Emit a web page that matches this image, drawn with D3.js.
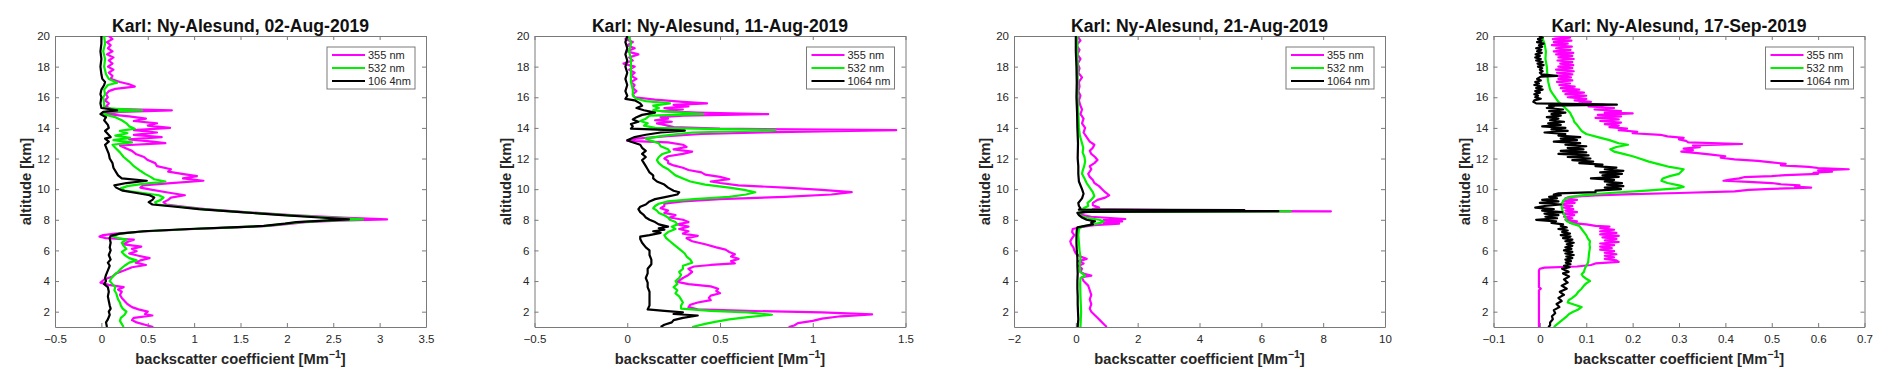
<!DOCTYPE html>
<html><head><meta charset="utf-8">
<script src="https://cdn.jsdelivr.net/npm/d3@7"></script>
<style>
body{margin:0;background:#fff;}
svg{display:block;font-family:"Liberation Sans",Arial,Helvetica,sans-serif;}
</style></head><body>
<svg id="chart" width="1892" height="385"></svg>
<script>
// ---------- DATA: [altitude km, backscatter Mm^-1] ----------
const aug02_1064 = [[20,0.0],[19.5,0.0],[19,-0.01],[18.5,0.0],[18,-0.01],[17.5,0.0],[17.2,0.01],[17.0,0.04],[16.8,0.03],[16.5,0.0],[16.2,-0.01],[16,0.0],[15.6,-0.01],[15.3,0.0],[15.15,0.17],[15.05,0.02],[14.9,-0.01],[14.7,0.05],[14.5,0.03],[14.2,0.07],[14.0,0.08],[13.8,0.04],[13.6,0.07],[13.4,0.1],[13.3,0.04],[13.1,0.08],[12.9,0.04],[12.6,0.06],[12.3,0.08],[12.0,0.09],[11.7,0.12],[11.4,0.13],[11.1,0.16],[10.9,0.18],[10.7,0.22],[10.55,0.49],[10.4,0.27],[10.25,0.14],[10.1,0.16],[9.9,0.23],[9.75,0.38],[9.6,0.52],[9.45,0.57],[9.3,0.55],[9.15,0.51],[9.0,0.55],[8.85,0.8],[8.7,1.05],[8.5,1.5],[8.3,1.95],[8.15,2.35],[8.03,2.67],[7.95,2.4],[7.85,2.1],[7.75,1.98],[7.6,1.75],[7.5,1.4],[7.4,0.95],[7.25,0.45],[7.1,0.2],[6.95,0.1],[6.8,0.09],[6.5,0.1],[6.2,0.09],[6.0,0.1],[5.7,0.08],[5.4,0.1],[5.2,0.07],[5.0,0.09],[4.7,0.07],[4.4,0.05],[4.2,0.04],[4.0,0.05],[3.8,0.03],[3.6,0.07],[3.3,0.08],[3.0,0.07],[2.7,0.08],[2.4,0.09],[2.2,0.1],[2.0,0.08],[1.8,0.09],[1.5,0.07],[1.3,0.05],[1.0,0.06]];
const aug02_532 = [[20,0.03],[19.5,0.04],[19,0.02],[18.5,0.04],[18,0.03],[17.5,0.05],[17.2,0.08],[16.95,0.17],[16.8,0.07],[16.5,0.03],[16.2,0.04],[16,0.02],[15.6,0.03],[15.3,0.03],[15.15,0.44],[15.05,0.05],[14.9,0.02],[14.7,0.15],[14.5,0.22],[14.3,0.27],[14.1,0.3],[13.95,0.36],[13.8,0.2],[13.65,0.28],[13.5,0.15],[13.35,0.31],[13.2,0.13],[13.05,0.33],[12.9,0.12],[12.7,0.15],[12.4,0.2],[12.1,0.24],[11.8,0.3],[11.5,0.35],[11.2,0.42],[11.0,0.47],[10.8,0.53],[10.65,0.57],[10.5,0.69],[10.35,0.45],[10.2,0.28],[10.05,0.21],[9.9,0.25],[9.75,0.45],[9.6,0.62],[9.45,0.67],[9.3,0.64],[9.15,0.58],[9.0,0.6],[8.85,0.85],[8.7,1.08],[8.5,1.52],[8.3,2.0],[8.15,2.45],[8.03,2.82],[7.95,2.45],[7.85,2.15],[7.75,2.0],[7.6,1.78],[7.5,1.42],[7.4,0.97],[7.25,0.47],[7.1,0.2],[6.95,0.12],[6.8,0.18],[6.7,0.27],[6.5,0.22],[6.3,0.24],[6.1,0.27],[5.9,0.22],[5.7,0.25],[5.5,0.3],[5.35,0.38],[5.2,0.3],[5.0,0.25],[4.8,0.21],[4.6,0.18],[4.4,0.14],[4.2,0.11],[4.0,0.09],[3.8,0.12],[3.6,0.15],[3.4,0.14],[3.2,0.16],[3.0,0.17],[2.8,0.18],[2.6,0.2],[2.4,0.21],[2.2,0.23],[2.0,0.27],[1.8,0.25],[1.6,0.21],[1.4,0.2],[1.2,0.22],[1.0,0.24]];
const aug02_355 = [[20,0.08],[19.8,0.12],[19.6,0.06],[19.4,0.1],[19.2,0.07],[19,0.12],[18.8,0.06],[18.6,0.13],[18.4,0.08],[18.2,0.12],[18,0.07],[17.8,0.13],[17.6,0.08],[17.4,0.12],[17.2,0.1],[17.0,0.2],[16.85,0.3],[16.7,0.36],[16.55,0.15],[16.4,0.08],[16.2,0.05],[16,0.07],[15.8,0.04],[15.6,0.08],[15.4,0.05],[15.25,0.1],[15.15,0.76],[15.05,0.2],[14.9,0.06],[14.75,0.3],[14.6,0.48],[14.45,0.35],[14.3,0.6],[14.15,0.5],[14.0,0.74],[13.85,0.35],[13.7,0.6],[13.55,0.35],[13.4,0.65],[13.25,0.3],[13.1,0.55],[13.0,0.69],[12.85,0.2],[12.7,0.25],[12.5,0.33],[12.3,0.37],[12.1,0.46],[11.9,0.5],[11.7,0.58],[11.5,0.6],[11.3,0.75],[11.15,0.72],[11.0,0.87],[10.85,1.03],[10.7,0.88],[10.55,1.1],[10.4,0.75],[10.25,0.45],[10.1,0.42],[9.95,0.55],[9.8,0.7],[9.6,0.9],[9.45,0.75],[9.3,0.72],[9.15,0.67],[9.0,0.7],[8.85,0.9],[8.7,1.12],[8.5,1.55],[8.3,2.05],[8.15,2.6],[8.03,3.08],[7.95,2.55],[7.85,2.2],[7.75,2.05],[7.6,1.8],[7.5,1.45],[7.4,1.0],[7.25,0.5],[7.1,0.15],[7.0,0.02],[6.9,-0.02],[6.8,0.05],[6.7,0.35],[6.55,0.28],[6.4,0.24],[6.25,0.43],[6.1,0.33],[5.95,0.38],[5.8,0.3],[5.65,0.4],[5.5,0.52],[5.35,0.42],[5.2,0.37],[5.05,0.48],[4.9,0.33],[4.7,0.25],[4.5,0.16],[4.3,0.12],[4.1,0.03],[3.9,-0.01],[3.75,0.08],[3.6,0.24],[3.45,0.18],[3.3,0.22],[3.1,0.2],[2.9,0.22],[2.7,0.25],[2.5,0.28],[2.3,0.33],[2.15,0.4],[2.0,0.5],[1.85,0.47],[1.75,0.55],[1.6,0.35],[1.45,0.33],[1.3,0.38],[1.15,0.47],[1.0,0.56]];

const aug11_1064 = [[20,0.0],[19.6,-0.01],[19.2,0.0],[18.8,-0.01],[18.4,0.0],[18,-0.01],[17.6,0.0],[17.2,-0.01],[16.8,0.0],[16.4,-0.01],[16.1,0.0],[15.9,-0.01],[15.8,0.04],[15.6,0.07],[15.45,0.08],[15.3,0.05],[15.15,0.09],[15.0,0.15],[14.85,0.08],[14.7,0.05],[14.55,0.03],[14.4,0.06],[14.25,0.02],[14.1,0.03],[13.95,0.02],[13.82,0.31],[13.7,0.18],[13.55,0.1],[13.4,0.04],[13.2,0.0],[13.1,0.02],[12.9,0.07],[12.7,0.08],[12.5,0.1],[12.3,0.08],[12.1,0.1],[11.9,0.08],[11.7,0.09],[11.5,0.1],[11.3,0.11],[11.1,0.12],[10.9,0.14],[10.7,0.14],[10.5,0.16],[10.3,0.2],[10.1,0.22],[9.9,0.25],[9.8,0.28],[9.65,0.27],[9.5,0.21],[9.35,0.15],[9.2,0.12],[9.0,0.1],[8.85,0.07],[8.7,0.06],[8.5,0.07],[8.3,0.09],[8.15,0.1],[8.0,0.12],[7.85,0.15],[7.7,0.17],[7.55,0.22],[7.45,0.17],[7.35,0.2],[7.25,0.14],[7.15,0.18],[7.0,0.12],[6.9,0.07],[6.75,0.07],[6.5,0.08],[6.2,0.1],[6.0,0.12],[5.7,0.12],[5.4,0.13],[5.1,0.13],[4.8,0.11],[4.5,0.11],[4.2,0.1],[3.9,0.11],[3.6,0.11],[3.3,0.12],[3.0,0.12],[2.7,0.12],[2.4,0.12],[2.15,0.11],[2.05,0.2],[1.95,0.3],[1.85,0.25],[1.75,0.38],[1.6,0.3],[1.45,0.25],[1.3,0.24],[1.15,0.2],[1.0,0.18]];
const aug11_532 = [[20,0.01],[19.5,0.02],[19,0.01],[18.5,0.02],[18,0.02],[17.5,0.02],[17,0.02],[16.5,0.03],[16.1,0.03],[15.9,0.05],[15.75,0.1],[15.6,0.23],[15.45,0.14],[15.3,0.17],[15.15,0.14],[15.0,0.3],[14.9,0.41],[14.8,0.12],[14.6,0.1],[14.45,0.07],[14.3,0.11],[14.15,0.09],[14.0,0.15],[13.85,0.8],[13.7,0.35],[13.5,0.2],[13.3,0.1],[13.15,0.13],[13.0,0.17],[12.8,0.18],[12.6,0.22],[12.45,0.23],[12.3,0.19],[12.1,0.17],[11.9,0.16],[11.7,0.17],[11.5,0.19],[11.3,0.22],[11.1,0.24],[10.9,0.26],[10.7,0.3],[10.5,0.34],[10.3,0.42],[10.1,0.55],[9.95,0.63],[9.8,0.69],[9.65,0.64],[9.5,0.55],[9.35,0.36],[9.2,0.22],[9.05,0.17],[8.9,0.15],[8.75,0.14],[8.6,0.16],[8.45,0.17],[8.3,0.2],[8.15,0.22],[8.0,0.23],[7.85,0.26],[7.7,0.27],[7.55,0.24],[7.4,0.26],[7.2,0.22],[7.0,0.2],[6.8,0.21],[6.6,0.23],[6.4,0.25],[6.2,0.27],[6.0,0.29],[5.8,0.31],[5.6,0.32],[5.4,0.34],[5.2,0.35],[5.0,0.3],[4.8,0.3],[4.6,0.28],[4.4,0.29],[4.2,0.28],[4.0,0.26],[3.8,0.27],[3.6,0.25],[3.4,0.27],[3.2,0.26],[3.0,0.28],[2.8,0.29],[2.6,0.3],[2.4,0.29],[2.2,0.29],[2.05,0.45],[1.95,0.65],[1.8,0.78],[1.65,0.65],[1.5,0.55],[1.35,0.48],[1.2,0.42],[1.0,0.35]];
const aug11_355 = [[20,0.02],[19.8,-0.01],[19.6,0.03],[19.4,0.0],[19.2,0.04],[19.0,0.0],[18.8,0.06],[18.6,0.01],[18.4,0.03],[18.2,-0.02],[18.0,0.04],[17.8,0.01],[17.6,0.04],[17.4,0.02],[17.2,0.05],[17.0,0.02],[16.8,0.04],[16.6,0.03],[16.4,0.05],[16.2,0.03],[16.0,0.04],[15.85,0.15],[15.7,0.3],[15.6,0.43],[15.5,0.25],[15.4,0.33],[15.3,0.2],[15.2,0.3],[15.1,0.18],[15.0,0.38],[14.9,0.76],[14.8,0.3],[14.7,0.18],[14.6,0.22],[14.5,0.15],[14.4,0.24],[14.3,0.16],[14.2,0.2],[14.05,0.25],[13.95,0.5],[13.85,1.45],[13.72,0.8],[13.6,0.4],[13.45,0.2],[13.3,0.05],[13.15,0.0],[13.05,0.22],[12.9,0.3],[12.75,0.32],[12.6,0.25],[12.45,0.35],[12.3,0.3],[12.15,0.22],[12.0,0.2],[11.85,0.22],[11.7,0.22],[11.55,0.25],[11.4,0.3],[11.25,0.33],[11.1,0.4],[10.95,0.42],[10.8,0.5],[10.65,0.55],[10.5,0.45],[10.4,0.5],[10.25,0.6],[10.1,0.85],[9.95,1.05],[9.8,1.21],[9.65,1.1],[9.5,0.85],[9.35,0.5],[9.2,0.3],[9.05,0.2],[8.9,0.2],[8.75,0.18],[8.6,0.22],[8.45,0.2],[8.3,0.26],[8.15,0.23],[8.0,0.3],[7.85,0.33],[7.7,0.27],[7.55,0.33],[7.4,0.28],[7.25,0.33],[7.1,0.3],[6.95,0.38],[6.8,0.32],[6.6,0.35],[6.4,0.42],[6.2,0.48],[6.05,0.53],[5.9,0.55],[5.75,0.58],[5.6,0.56],[5.45,0.6],[5.3,0.56],[5.15,0.58],[5.05,0.45],[4.95,0.36],[4.8,0.33],[4.6,0.35],[4.4,0.33],[4.2,0.3],[3.95,0.27],[3.8,0.33],[3.65,0.45],[3.5,0.49],[3.35,0.48],[3.2,0.5],[3.05,0.45],[2.9,0.44],[2.75,0.45],[2.6,0.38],[2.45,0.34],[2.3,0.33],[2.15,0.38],[2.05,0.65],[1.95,1.05],[1.82,1.32],[1.7,1.15],[1.55,1.05],[1.4,1.0],[1.25,0.92],[1.1,0.9],[1.0,0.87]];

const aug21_1064 = [[20,0.0],[19,0.0],[18,0.02],[17,0.03],[16,0.02],[15,0.04],[14,0.05],[13,0.07],[12,0.06],[11.5,0.08],[11,0.08],[10.5,0.1],[10.0,0.2],[9.7,0.25],[9.4,0.2],[9.1,0.08],[8.9,0.1],[8.75,0.15],[8.66,0.1],[8.63,5.45],[8.6,0.3],[8.56,6.55],[8.52,0.3],[8.45,0.05],[8.3,0.1],[8.15,0.2],[8.0,0.35],[7.9,0.62],[7.8,0.5],[7.7,0.55],[7.6,0.3],[7.5,0.05],[7.3,0.03],[7.0,0.02],[6.5,0.02],[6.0,0.03],[5.5,0.05],[5.0,0.05],[4.5,0.06],[4.0,0.05],[3.5,0.05],[3.0,0.06],[2.5,0.06],[2.0,0.07],[1.5,0.08],[1.0,0.06]];
const aug21_532 = [[20,0.05],[19,0.05],[18,0.06],[17,0.06],[16,0.06],[15,0.08],[14,0.1],[13.5,0.13],[13.0,0.2],[12.7,0.24],[12.4,0.22],[12.1,0.28],[11.8,0.3],[11.5,0.27],[11.2,0.22],[11.0,0.2],[10.7,0.28],[10.4,0.35],[10.1,0.45],[9.8,0.55],[9.55,0.6],[9.3,0.5],[9.1,0.38],[8.9,0.4],[8.75,0.25],[8.66,0.2],[8.62,3.3],[8.59,0.4],[8.555,6.95],[8.52,0.3],[8.45,0.1],[8.3,0.12],[8.15,0.3],[8.0,0.75],[7.9,0.9],[7.8,0.8],[7.7,0.55],[7.55,0.2],[7.4,0.1],[7.0,0.08],[6.5,0.1],[6.0,0.12],[5.5,0.15],[5.0,0.12],[4.6,0.14],[4.35,0.3],[4.2,0.15],[3.8,0.14],[3.0,0.15],[2.5,0.16],[2.0,0.17],[1.5,0.16],[1.0,0.15]];
const aug21_355 = [[20,0.05],[19.7,0.15],[19.4,0.02],[19.1,0.12],[18.8,0.05],[18.5,0.15],[18.2,0.06],[17.9,0.12],[17.6,0.08],[17.3,0.2],[17.0,0.1],[16.7,0.12],[16.4,0.08],[16.1,0.15],[15.8,0.1],[15.5,0.14],[15.2,0.2],[14.9,0.15],[14.6,0.25],[14.3,0.2],[14.0,0.3],[13.7,0.25],[13.4,0.35],[13.1,0.45],[12.9,0.6],[12.7,0.55],[12.5,0.45],[12.3,0.5],[12.1,0.62],[11.9,0.7],[11.7,0.6],[11.5,0.45],[11.3,0.5],[11.0,0.4],[10.8,0.45],[10.6,0.55],[10.4,0.6],[10.2,0.75],[10.0,0.85],[9.8,0.95],[9.6,1.08],[9.45,0.95],[9.3,0.7],[9.1,0.55],[8.95,0.55],[8.8,0.75],[8.7,0.55],[8.63,3.0],[8.6,0.5],[8.555,8.25],[8.52,0.4],[8.45,0.15],[8.35,0.1],[8.2,0.5],[8.05,1.6],[7.98,0.9],[7.9,1.5],[7.82,0.9],[7.75,1.4],[7.65,0.6],[7.5,0.1],[7.4,-0.1],[7.2,-0.12],[7.0,-0.05],[6.8,-0.12],[6.6,-0.18],[6.4,-0.15],[6.2,-0.08],[6.0,-0.05],[5.8,0.0],[5.6,0.15],[5.45,0.35],[5.3,0.1],[5.15,0.25],[5.0,0.1],[4.8,0.2],[4.6,0.15],[4.45,0.3],[4.35,0.5],[4.25,0.2],[4.0,0.25],[3.7,0.4],[3.4,0.45],[3.1,0.5],[2.8,0.45],[2.5,0.5],[2.2,0.45],[2.0,0.5],[1.8,0.6],[1.6,0.7],[1.4,0.8],[1.2,0.9],[1.0,1.0]];

const sep17_1064 = [[20.0,-0.002],[19.9,0.006],[19.8,-0.004],[19.7,0.004],[19.6,-0.006],[19.5,0.008],[19.4,-0.002],[19.3,0.005],[19.2,-0.008],[19.1,0.003],[19.0,-0.006],[18.9,0.004],[18.8,-0.009],[18.7,0.0],[18.6,-0.01],[18.5,0.002],[18.4,-0.008],[18.3,0.006],[18.2,-0.005],[18.1,0.008],[18.0,-0.004],[17.9,0.005],[17.8,0.0],[17.7,0.006],[17.6,0.0],[17.5,0.004],[17.4,0.037],[17.35,0.002],[17.2,-0.006],[17.1,0.002],[17.0,-0.01],[16.9,-0.002],[16.8,-0.012],[16.7,0.004],[16.6,-0.008],[16.5,0.006],[16.4,-0.01],[16.3,0.0],[16.2,-0.012],[16.1,-0.004],[16.0,-0.01],[15.9,0.002],[15.8,-0.012],[15.7,-0.014],[15.6,-0.008],[15.52,0.166],[15.45,0.02],[15.4,0.03],[15.3,0.015],[15.2,0.05],[15.1,0.02],[15.0,0.055],[14.9,0.025],[14.8,0.045],[14.7,0.015],[14.6,0.04],[14.5,0.022],[14.4,0.052],[14.3,0.018],[14.2,0.045],[14.1,0.005],[14.0,0.055],[13.9,0.025],[13.8,0.06],[13.7,0.01],[13.6,0.055],[13.5,0.04],[13.4,0.087],[13.3,0.045],[13.2,0.08],[13.1,0.03],[13.0,0.087],[12.9,0.055],[12.8,0.1],[12.7,0.06],[12.6,0.094],[12.5,0.045],[12.4,0.1],[12.3,0.04],[12.2,0.105],[12.1,0.06],[12.0,0.109],[11.9,0.07],[11.8,0.115],[11.7,0.085],[11.6,0.135],[11.5,0.12],[11.4,0.165],[11.3,0.14],[11.2,0.18],[11.1,0.13],[11.0,0.177],[10.9,0.135],[10.8,0.17],[10.7,0.11],[10.6,0.16],[10.5,0.14],[10.4,0.177],[10.3,0.145],[10.2,0.18],[10.1,0.14],[10.0,0.175],[9.9,0.12],[9.8,0.12],[9.72,0.04],[9.65,0.03],[9.6,0.045],[9.5,0.02],[9.4,0.037],[9.3,0.005],[9.2,0.04],[9.1,0.0],[9.0,0.045],[8.9,0.01],[8.8,-0.01],[8.7,0.03],[8.6,0.005],[8.5,0.048],[8.4,0.01],[8.3,0.04],[8.2,0.012],[8.1,0.037],[8.0,-0.008],[7.9,0.035],[7.8,0.025],[7.7,0.05],[7.6,0.045],[7.5,0.058],[7.4,0.04],[7.3,0.06],[7.2,0.048],[7.1,0.065],[7.0,0.045],[6.9,0.066],[6.8,0.05],[6.7,0.07],[6.6,0.055],[6.5,0.073],[6.4,0.058],[6.3,0.07],[6.2,0.055],[6.1,0.068],[6.0,0.052],[5.9,0.07],[5.8,0.055],[5.7,0.073],[5.6,0.057],[5.5,0.07],[5.4,0.055],[5.3,0.067],[5.2,0.056],[5.1,0.066],[5.0,0.052],[4.9,0.064],[4.8,0.048],[4.6,0.062],[4.5,0.05],[4.3,0.063],[4.1,0.052],[3.9,0.06],[3.7,0.047],[3.5,0.058],[3.3,0.043],[3.1,0.052],[2.9,0.04],[2.7,0.047],[2.5,0.036],[2.3,0.042],[2.1,0.03],[1.9,0.033],[1.7,0.026],[1.5,0.028],[1.3,0.022],[1.1,0.022],[1.0,0.018]];
const sep17_532 = [[20,0.004],[19.5,0.01],[19.0,0.013],[18.5,0.012],[18.0,0.015],[17.5,0.016],[17.0,0.018],[16.5,0.022],[16.2,0.028],[16.0,0.033],[15.7,0.04],[15.5,0.048],[15.2,0.058],[15.0,0.065],[14.8,0.068],[14.6,0.072],[14.4,0.074],[14.2,0.08],[14.0,0.085],[13.8,0.09],[13.6,0.1],[13.4,0.125],[13.2,0.15],[13.0,0.17],[12.9,0.19],[12.75,0.165],[12.6,0.152],[12.45,0.16],[12.3,0.18],[12.15,0.2],[12.0,0.215],[11.8,0.235],[11.6,0.26],[11.45,0.28],[11.3,0.31],[11.15,0.305],[11.0,0.3],[10.85,0.28],[10.7,0.265],[10.55,0.262],[10.4,0.275],[10.25,0.3],[10.15,0.31],[10.05,0.295],[9.9,0.23],[9.75,0.15],[9.6,0.09],[9.45,0.06],[9.3,0.052],[9.1,0.048],[8.9,0.047],[8.7,0.048],[8.5,0.05],[8.3,0.053],[8.1,0.056],[7.9,0.058],[7.75,0.07],[7.6,0.085],[7.4,0.09],[7.2,0.095],[7.0,0.1],[6.8,0.103],[6.6,0.108],[6.4,0.107],[6.2,0.108],[6.0,0.107],[5.8,0.106],[5.5,0.105],[5.2,0.104],[5.0,0.1],[4.8,0.097],[4.6,0.095],[4.45,0.09],[4.3,0.093],[4.15,0.1],[4.0,0.108],[3.85,0.1],[3.7,0.095],[3.5,0.09],[3.3,0.083],[3.1,0.078],[2.9,0.07],[2.75,0.062],[2.6,0.06],[2.45,0.075],[2.3,0.09],[2.15,0.083],[2.0,0.072],[1.85,0.063],[1.7,0.058],[1.5,0.05],[1.3,0.042],[1.15,0.036],[1.0,0.03]];
const sep17_355 = [[20.0,0.03],[19.9,0.065],[19.8,0.028],[19.7,0.068],[19.6,0.03],[19.5,0.06],[19.4,0.026],[19.3,0.069],[19.2,0.035],[19.1,0.066],[19.0,0.03],[18.9,0.072],[18.8,0.035],[18.7,0.07],[18.6,0.04],[18.5,0.073],[18.4,0.038],[18.3,0.07],[18.2,0.044],[18.1,0.072],[18.0,0.04],[17.9,0.07],[17.8,0.035],[17.7,0.073],[17.6,0.037],[17.5,0.07],[17.4,0.036],[17.3,0.067],[17.2,0.04],[17.1,0.07],[17.0,0.037],[16.9,0.065],[16.8,0.042],[16.7,0.075],[16.6,0.045],[16.5,0.085],[16.4,0.05],[16.3,0.095],[16.2,0.055],[16.1,0.1],[16.0,0.06],[15.9,0.1],[15.8,0.075],[15.7,0.11],[15.6,0.085],[15.5,0.14],[15.4,0.105],[15.3,0.16],[15.2,0.118],[15.1,0.175],[15.0,0.14],[14.95,0.2],[14.85,0.125],[14.75,0.175],[14.65,0.12],[14.55,0.17],[14.45,0.13],[14.35,0.175],[14.25,0.14],[14.15,0.17],[14.05,0.15],[13.95,0.188],[13.85,0.17],[13.75,0.21],[13.65,0.2],[13.55,0.26],[13.45,0.275],[13.35,0.31],[13.25,0.3],[13.15,0.315],[13.05,0.32],[12.95,0.436],[12.85,0.33],[12.75,0.345],[12.65,0.31],[12.55,0.33],[12.45,0.305],[12.35,0.34],[12.25,0.37],[12.15,0.4],[12.05,0.39],[11.95,0.42],[11.85,0.47],[11.75,0.5],[11.65,0.53],[11.55,0.52],[11.45,0.58],[11.38,0.6],[11.3,0.666],[11.22,0.6],[11.15,0.63],[11.07,0.59],[11.0,0.6],[10.92,0.53],[10.85,0.5],[10.78,0.44],[10.7,0.43],[10.62,0.41],[10.55,0.396],[10.48,0.45],[10.4,0.5],[10.32,0.52],[10.25,0.56],[10.17,0.55],[10.1,0.585],[10.02,0.5],[9.95,0.45],[9.85,0.42],[9.75,0.3],[9.68,0.2],[9.6,0.12],[9.5,0.065],[9.4,0.055],[9.3,0.08],[9.2,0.05],[9.1,0.075],[9.0,0.045],[8.9,0.07],[8.8,0.05],[8.7,0.072],[8.6,0.055],[8.5,0.08],[8.4,0.05],[8.3,0.074],[8.2,0.052],[8.1,0.07],[8.0,0.055],[7.9,0.08],[7.8,0.065],[7.7,0.1],[7.6,0.12],[7.55,0.15],[7.45,0.13],[7.35,0.16],[7.25,0.13],[7.15,0.165],[7.05,0.13],[6.95,0.17],[6.85,0.135],[6.75,0.165],[6.65,0.14],[6.55,0.17],[6.45,0.13],[6.35,0.16],[6.25,0.13],[6.15,0.155],[6.05,0.13],[5.95,0.16],[5.85,0.14],[5.75,0.165],[5.65,0.14],[5.55,0.16],[5.45,0.14],[5.35,0.165],[5.25,0.17],[5.15,0.12],[5.05,0.11],[4.95,0.08],[4.88,0.01],[4.8,0.0],[4.7,-0.002],[4.0,-0.002],[3.6,-0.002],[3.5,0.002],[3.4,-0.002],[1.0,-0.002]];

const titles = ["Karl: Ny-Alesund, 02-Aug-2019","Karl: Ny-Alesund, 11-Aug-2019","Karl: Ny-Alesund, 21-Aug-2019","Karl: Ny-Alesund, 17-Sep-2019"];
const xDomains = [[-0.5,3.5],[-0.5,1.5],[-2,10],[-0.1,0.7]];
const xTickValues = [[-0.5,0,0.5,1,1.5,2,2.5,3,3.5],[-0.5,0,0.5,1,1.5],[-2,0,2,4,6,8,10],[-0.1,0,0.1,0.2,0.3,0.4,0.5,0.6,0.7]];
const yDomain = [1,20];
const yTickValues = [2,4,6,8,10,12,14,16,18,20];
const legendLabels = [["355 nm","532 nm","106 4nm"],["355 nm","532 nm","1064 nm"],["355 nm","532 nm","1064 nm"],["355 nm","532 nm","1064 nm"]];
const panelSeries = [[aug02_355,aug02_532,aug02_1064],[aug11_355,aug11_532,aug11_1064],[aug21_355,aug21_532,aug21_1064],[sep17_355,sep17_532,sep17_1064]];
const seriesColors = ["#ff00ff","#00f000","#000000"];

// ---------- LAYOUT ----------
const svg = d3.select("#chart");
const PW = 371, PH = 291, plotTop = 36;
const lefts = [55, 534.5, 1014, 1493.5];
const axisColor = "#7a7a7a", textColor = "#262626";
const fmt = d3.format("~g");

panelSeries.forEach((series, i) => {
  const g = svg.append("g").attr("transform", `translate(${lefts[i]},${plotTop})`);
  const x = d3.scaleLinear().domain(xDomains[i]).range([0, PW]);
  const y = d3.scaleLinear().domain(yDomain).range([PH, 0]);

  g.append("defs").append("clipPath").attr("id", "clip" + i)
    .append("rect").attr("width", PW).attr("height", PH);

  const styleAxis = (sel, labels) => {
    sel.selectAll(".domain").attr("stroke", axisColor).attr("stroke-width", 1);
    sel.selectAll(".tick line").attr("stroke", axisColor).attr("stroke-width", 1);
    sel.selectAll(".tick text").attr("fill", textColor).style("font-size", "11.5px");
    if (!labels) sel.selectAll(".tick text").remove();
  };

  g.append("g").attr("transform", `translate(0,${PH})`)
    .call(d3.axisBottom(x).tickValues(xTickValues[i]).tickFormat(fmt).tickSizeInner(-4).tickSizeOuter(0).tickPadding(8))
    .call(s => styleAxis(s, true));
  g.append("g")
    .call(d3.axisTop(x).tickValues(xTickValues[i]).tickSizeInner(-4).tickSizeOuter(0))
    .call(s => styleAxis(s, false));
  g.append("g")
    .call(d3.axisLeft(y).tickValues(yTickValues).tickFormat(fmt).tickSizeInner(-4).tickSizeOuter(0).tickPadding(5))
    .call(s => styleAxis(s, true));
  g.append("g").attr("transform", `translate(${PW},0)`)
    .call(d3.axisRight(y).tickValues(yTickValues).tickSizeInner(-4).tickSizeOuter(0))
    .call(s => styleAxis(s, false));

  const line = d3.line().x(d => x(d[1])).y(d => y(d[0]));
  const plot = g.append("g").attr("clip-path", `url(#clip${i})`);
  series.forEach((data, k) => {
    plot.append("path").datum(data).attr("d", line)
      .attr("fill", "none").attr("stroke", seriesColors[k])
      .attr("stroke-width", 2.2).attr("stroke-linejoin", "round");
  });

  g.append("text").attr("x", PW / 2).attr("y", -4).attr("text-anchor", "middle")
    .attr("fill", "#111").style("font-size", "17.6px").style("font-weight", "bold")
    .text(titles[i]);

  const xl = g.append("text").attr("x", PW / 2).attr("y", PH + 37).attr("text-anchor", "middle")
    .attr("fill", textColor).style("font-size", "14.7px").style("font-weight", "bold");
  xl.append("tspan").text("backscatter coefficient [Mm");
  xl.append("tspan").attr("dy", -6).style("font-size", "10.5px").text("\u22121");
  xl.append("tspan").attr("dy", 6).text("]");

  g.append("text").attr("transform", `translate(-24,${PH / 2}) rotate(-90)`)
    .attr("text-anchor", "middle").attr("fill", textColor)
    .style("font-size", "14.7px").style("font-weight", "bold").text("altitude [km]");

  const lg = g.append("g").attr("transform", `translate(${PW - 99},11)`);
  lg.append("rect").attr("width", 88).attr("height", 42)
    .attr("fill", "#fff").attr("stroke", axisColor).attr("stroke-width", 1);
  legendLabels[i].forEach((lab, k) => {
    const yy = 8 + k * 13;
    lg.append("line").attr("x1", 5).attr("x2", 38).attr("y1", yy).attr("y2", yy)
      .attr("stroke", seriesColors[k]).attr("stroke-width", 2);
    lg.append("text").attr("x", 41).attr("y", yy + 4).attr("fill", textColor)
      .style("font-size", "11px").text(lab);
  });
});
</script>
</body></html>
